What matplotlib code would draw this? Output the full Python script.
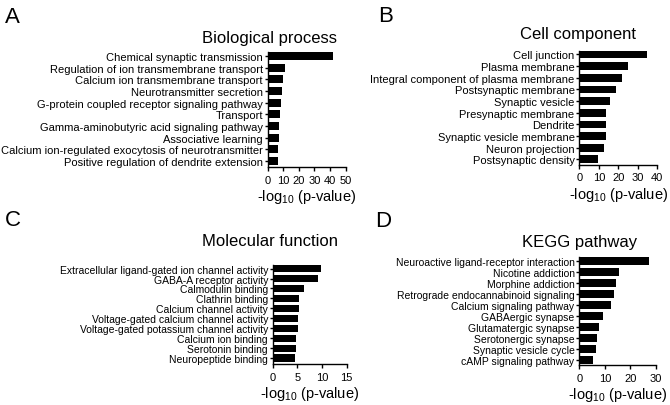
import matplotlib
matplotlib.use('Agg')
import matplotlib.pyplot as plt

plt.rcParams['font.family'] = ['Liberation Sans', 'DejaVu Sans']
plt.rcParams['mathtext.default'] = 'regular'

# ---------------- data ----------------
bp_terms = ["Chemical synaptic transmission",
            "Regulation of ion transmembrane transport",
            "Calcium ion transmembrane transport",
            "Neurotransmitter secretion",
            "G-protein coupled receptor signaling pathway",
            "Transport",
            "Gamma-aminobutyric acid signaling pathway",
            "Associative learning",
            "Calcium ion-regulated exocytosis of neurotransmitter",
            "Positive regulation of dendrite extension"]
bp_vals = [42.3, 11.2, 9.8, 9.1, 8.5, 8.0, 7.4, 7.2, 6.9, 6.7]

cc_terms = ["Cell junction", "Plasma membrane",
            "Integral component of plasma membrane",
            "Postsynaptic membrane", "Synaptic vesicle",
            "Presynaptic membrane", "Dendrite",
            "Synaptic vesicle membrane", "Neuron projection",
            "Postsynaptic density"]
cc_vals = [34.5, 25.1, 22.0, 18.8, 15.7, 13.8, 13.7, 13.5, 12.8, 9.7]

mf_terms = ["Extracellular ligand-gated ion channel activity",
            "GABA-A receptor activity", "Calmodulin binding",
            "Clathrin binding", "Calcium channel activity",
            "Voltage-gated calcium channel activity",
            "Voltage-gated potassium channel activity",
            "Calcium ion binding", "Serotonin binding",
            "Neuropeptide binding"]
mf_vals = [9.7, 9.2, 6.4, 5.4, 5.3, 5.2, 5.05, 4.7, 4.65, 4.6]

kegg_terms = ["Neuroactive ligand-receptor interaction",
              "Nicotine addiction", "Morphine addiction",
              "Retrograde endocannabinoid signaling",
              "Calcium signaling pathway", "GABAergic synapse",
              "Glutamatergic synapse", "Serotonergic synapse",
              "Synaptic vesicle cycle", "cAMP signaling pathway"]
kegg_vals = [27.3, 15.5, 14.4, 13.5, 12.5, 9.3, 7.6, 7.0, 6.7, 5.3]

titles = ["Biological process", "Cell component", "Molecular function", "KEGG pathway"]
letters = ["A", "B", "C", "D"]
xticks_list = [[0, 10, 20, 30, 40, 50], [0, 10, 20, 30, 40], [0, 5, 10, 15], [0, 10, 20, 30]]
xlabel = r"-log$_{10}$ (p-value)"

# ---------------- layout (pixels) ----------------
W, H = 670, 406
fig = plt.figure(figsize=(W / 100, H / 100), dpi=100)

layout = [
    dict(box=(267.5, 345.5, 53.0, 168.0), ylim=(9.5, -0.34), bh=0.68, fs=8.0,
         title_xy=(270, 43), letter_xy=(5, 23)),
    dict(box=(579.3, 657.3, 51.5, 165.7), ylim=(9.46, -0.34), bh=0.66, fs=8.0,
         title_xy=(578.5, 39), letter_xy=(378, 22)),
    dict(box=(272.8, 346.7, 266.0, 365.0), ylim=(9.6, -0.36), bh=0.72, fs=7.5,
         title_xy=(270, 246), letter_xy=(5, 226)),
    dict(box=(579.3, 656.0, 258.3, 366.0), ylim=(9.45, -0.34), bh=0.67, fs=7.5,
         title_xy=(580, 247), letter_xy=(375, 227)),
]

datasets = [(bp_terms, bp_vals), (cc_terms, cc_vals), (mf_terms, mf_vals), (kegg_terms, kegg_vals)]

for (terms, vals), lay, title, letter, xt in zip(datasets, layout, titles, letters, xticks_list):
    x0, x1, yt, yb = lay["box"]
    ax = fig.add_axes([x0 / W, 1 - yb / H, (x1 - x0) / W, (yb - yt) / H])
    pos = list(range(len(terms)))
    ax.barh(pos, vals, height=lay["bh"], color="black", edgecolor="none")
    ax.set_ylim(*lay["ylim"])
    ax.set_xlim(xt[0], xt[-1])
    ax.set_xticks(xt)
    ax.set_yticks(pos)
    ax.set_yticklabels(terms, fontsize=lay["fs"])
    ax.tick_params(axis="x", labelsize=8, length=3, width=1.0, pad=2.5)
    ax.tick_params(axis="y", length=2.2, width=1.0, pad=1.2)
    for s in ["top", "right"]:
        ax.spines[s].set_visible(False)
    for s in ["left", "bottom"]:
        ax.spines[s].set_linewidth(1.0)
    ax.set_xlabel(xlabel, fontsize=10.5, labelpad=2)
    tx, ty = lay["title_xy"]
    fig.text(tx / W, 1 - ty / H, title, fontsize=12, ha="center", va="baseline")
    lx, ly = lay["letter_xy"]
    fig.text(lx / W, 1 - ly / H, letter, fontsize=16, ha="left", va="baseline")

fig.savefig("out.png", dpi=100)
